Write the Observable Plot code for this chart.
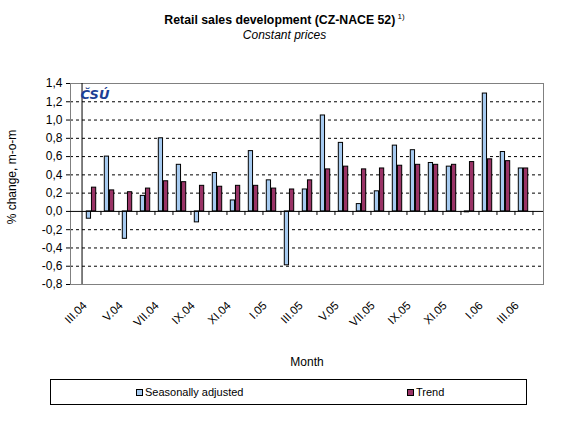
<!DOCTYPE html>
<html>
<head>
<meta charset="utf-8">
<script src="https://cdn.jsdelivr.net/npm/d3@7"></script>
<script src="https://cdn.jsdelivr.net/npm/@observablehq/plot@0.6"></script>
<style>
  body { margin: 0; background: white; font-family: "Liberation Sans", Arial, sans-serif; }
  #page { position: relative; width: 583px; height: 445px; }
  #head { height: 60px; text-align: center; padding-right: 14px; }
  #title { font-weight: bold; font-size: 12.3px; padding-top: 13px; line-height: 14px; }
  #title sup { font-size: 8px; font-weight: normal; vertical-align: 5px; line-height: 0; }
  #subtitle { font-style: italic; font-size: 12px; line-height: 16px; }
  #legend { position: absolute; left: 50px; top: 379px; width: 477px; height: 26px;
            border: 1px solid black; font-size: 11px; box-sizing: border-box; }
  .item { position: absolute; top: 6px; display: flex; align-items: center; }
  .sw { width: 5px; height: 5px; border: 1px solid black; margin-right: 2px; }
</style>
</head>
<body>
<div id="page">
  <div id="head">
    <div id="title">Retail sales development (CZ-NACE 52)<sup>&nbsp;1)</sup></div>
    <div id="subtitle">Constant prices</div>
  </div>
  <div id="chart"></div>
  <div id="legend"></div>
</div>
<script>
// months III.04 .. III.06
const months = ["III.04","IV.04","V.04","VI.04","VII.04","VIII.04","IX.04","X.04","XI.04","XII.04",
  "I.05","II.05","III.05","IV.05","V.05","VI.05","VII.05","VIII.05","IX.05","X.05","XI.05","XII.05",
  "I.06","II.06","III.06"]
// only every second month gets a label
const tickLabels = months.filter((d, i) => i % 2 == 0)

const seasonal = [-0.08, 0.60, -0.30, 0.17, 0.80, 0.51, -0.12, 0.42, 0.12, 0.66, 0.34, -0.59,
  0.24, 1.05, 0.75, 0.08, 0.22, 0.72, 0.67, 0.53, 0.49, -0.01, 1.29, 0.65, 0.47]
const trend = [0.26, 0.23, 0.21, 0.25, 0.33, 0.32, 0.28, 0.27, 0.28, 0.28, 0.25, 0.24,
  0.34, 0.46, 0.49, 0.46, 0.47, 0.50, 0.51, 0.51, 0.51, 0.54, 0.57, 0.55, 0.47]

const yTicks = [-0.8, -0.6, -0.4, -0.2, 0, 0.2, 0.4, 0.6, 0.8, 1.0, 1.2, 1.4]
const gridTicks = yTicks.filter(d => d != 0 && d != -0.8 && d != 1.4)

const series = ["Seasonally adjusted", "Trend"]
const colors = ["#a6caf0", "#993366"]

const data = months.map((m, i) => ({month: m, sa: seasonal[i], trend: trend[i]}))

const W = 583, mL = 70, mR = 40
const band = (W - mL - mR) / months.length
const gap = 4.3, bw = (band - 2 * gap) / 2
const fmt = d => d.toFixed(1).replace(".", ",")
const font = '"Liberation Sans", Arial, sans-serif'

let chart = Plot.plot({
  width: W,
  height: 314,
  marginTop: 23,
  marginBottom: 90,
  marginLeft: mL,
  marginRight: mR,
  style: {fontFamily: font, fontSize: '12px', color: 'black', background: 'white'},
  x: {domain: months, padding: 0},
  y: {domain: [-0.8, 1.4]},
  marks: [
    // dashed grid
    Plot.ruleY(gridTicks, {stroke: 'black', strokeDasharray: '3,3', strokeWidth: 1}),
    Plot.frame({stroke: '#808080'}),
    Plot.barY(data, {x: 'month', y: 'sa', fill: colors[0], stroke: 'black', strokeWidth: 1,
      insetLeft: gap, insetRight: gap + bw}),
    Plot.barY(data, {x: 'month', y: 'trend', fill: colors[1], stroke: 'black', strokeWidth: 1,
      insetLeft: gap + bw, insetRight: gap}),
    Plot.ruleY([0], {stroke: 'black'}),
    // tick marks between categories on the zero line
    Plot.ruleX(months, {x: d => d, dx: band / 2, y1: 0, y2: -0.045, stroke: 'black'}),
    Plot.axisY({ticks: yTicks, tickFormat: fmt, tickSize: 4, tickPadding: 4, label: null}),
    Plot.ruleX([months[0]], {dx: -band / 2, stroke: 'black'}),
    // rotated month labels
    Plot.text(tickLabels, {x: d => d, frameAnchor: 'bottom', rotate: -45, textAnchor: 'end',
      lineAnchor: 'middle', dx: -6.5, dy: 19, fontSize: 11.5}),
    Plot.axisX({ticks: [], tickSize: 0, label: 'Month', labelAnchor: 'center', labelArrow: false, labelOffset: 81}),
    Plot.text(['% change, m-o-m'], {frameAnchor: 'left', rotate: -90, textAnchor: 'middle',
      dx: -58, dy: -7, fontSize: 12}),
    Plot.text(['ČSÚ'], {frameAnchor: 'top-left', dx: 10, dy: 6, fill: '#1c3f94',
      fontWeight: 'bold', fontStyle: 'italic', fontSize: 13, fontFamily: '"DejaVu Sans", sans-serif'})
  ]
})

d3.select('#chart').append(() => chart)

// legend
const lg = d3.select('#legend')
const xs = [85, 356]
series.forEach((s, i) => {
  let it = lg.append('div').attr('class', 'item').style('left', xs[i] + 'px')
  it.append('div').attr('class', 'sw').style('background', colors[i])
  it.append('span').text(s)
})
</script>
</body>
</html>
